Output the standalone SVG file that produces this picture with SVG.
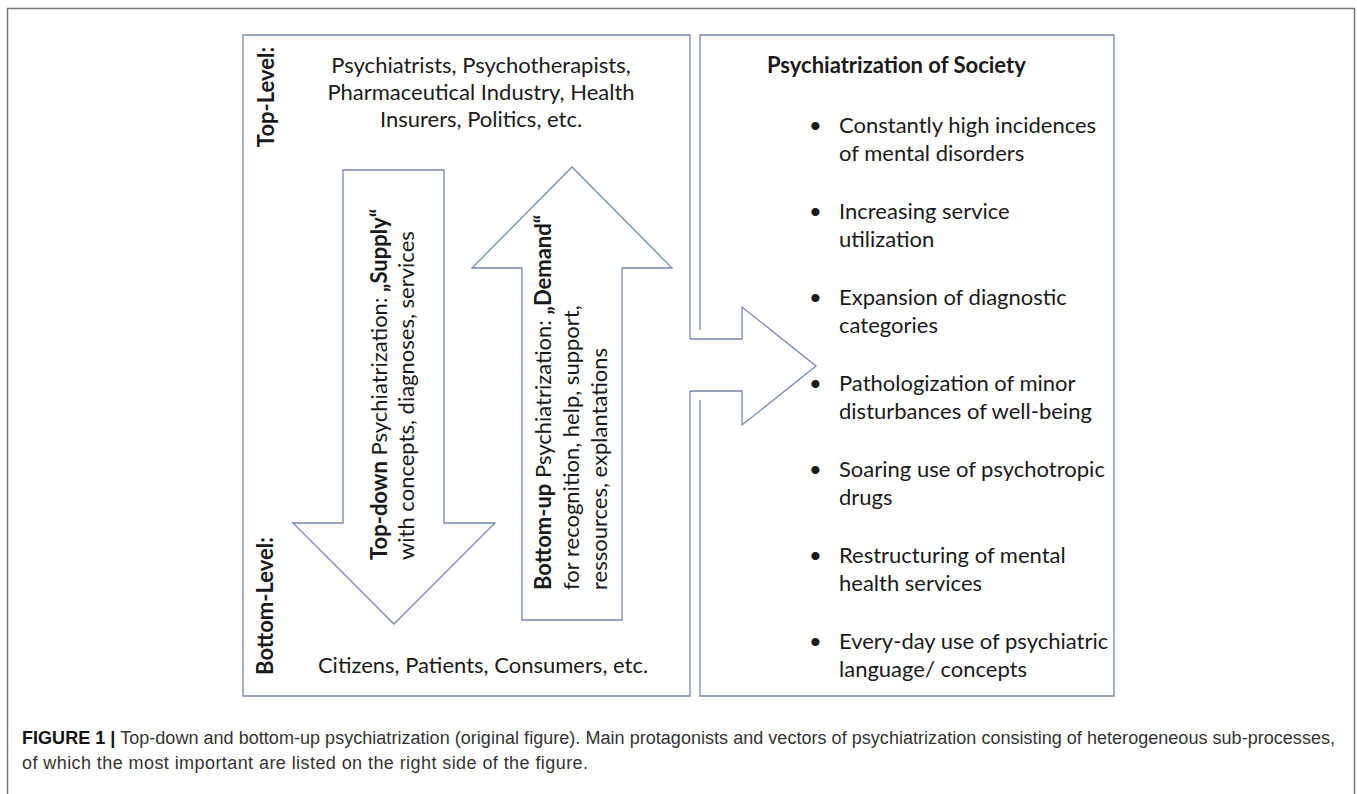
<svg xmlns="http://www.w3.org/2000/svg" width="1357" height="794" viewBox="0 0 1357 794">
<style>
.shape{fill:#fff;stroke:#7388b0;stroke-width:1.3;stroke-linejoin:miter}
.line{fill:none;stroke:#7388b0;stroke-width:1.3}
.t{font-family:"Lato","Open Sans","Liberation Sans",sans-serif;font-size:22px;fill:#1a1a1a}
.b{font-weight:bold}
.cap{font-family:"Liberation Sans",Arial,sans-serif;font-size:18px;fill:#333}
</style>
<rect x="7.5" y="8.5" width="1347" height="800" fill="#fff" stroke="#777" stroke-width="1.5"/>
<g id="left-box">
<path class="line" d="M690,339 V35 H243 V696 H690 V391"/>
<text class="t b" text-anchor="middle" transform="translate(274,97) rotate(-90)">Top-Level:</text>
<text class="t b" text-anchor="middle" transform="translate(273,606) rotate(-90)">Bottom-Level:</text>
<text class="t" text-anchor="middle" x="481" y="73">Psychiatrists, Psychotherapists,</text>
<text class="t" text-anchor="middle" x="481" y="100">Pharmaceutical Industry, Health</text>
<text class="t" text-anchor="middle" x="481" y="127">Insurers, Politics, etc.</text>
<text class="t" text-anchor="middle" x="483" y="673">Citizens, Patients, Consumers, etc.</text>
</g>
<g id="top-down-arrow">
<polygon class="shape" points="343,170 444,170 444,523 495,523 394,624 293,523 343,523"/>
<text class="t" transform="translate(387,560) rotate(-90)"><tspan class="b">Top-down</tspan> Psychiatrization: <tspan class="b">„Supply“</tspan></text>
<text class="t" transform="translate(414,560) rotate(-90)">with concepts, diagnoses, services</text>
</g>
<g id="bottom-up-arrow">
<polygon class="shape" points="572,167 672,268 622,268 622,620 522,620 522,268 472,268"/>
<text class="t" transform="translate(551,590) rotate(-90)"><tspan class="b">Bottom-up</tspan> Psychiatrization: <tspan class="b">„Demand“</tspan></text>
<text class="t" transform="translate(579,590) rotate(-90)">for recognition, help, support,</text>
<text class="t" transform="translate(607,590) rotate(-90)">ressources, explantations</text>
</g>
<g id="connectors">
<path class="line" d="M690,339 H742 V307 L816,366 L742,425 V391 H690"/>
</g>
<g id="right-box">
<path class="line" d="M700,330 V35 H1114 V696 H700 V400"/>
<text class="t b" x="767" y="73">Psychiatrization of Society</text>
<g class="t">
<text x="809" y="133">•</text><text x="839" y="133">Constantly high incidences</text><text x="839" y="161">of mental disorders</text>
<text x="809" y="219">•</text><text x="839" y="219">Increasing service</text><text x="839" y="247">utilization</text>
<text x="809" y="305">•</text><text x="839" y="305">Expansion of diagnostic</text><text x="839" y="333">categories</text>
<text x="809" y="391">•</text><text x="839" y="391">Pathologization of minor</text><text x="839" y="419">disturbances of well-being</text>
<text x="809" y="477">•</text><text x="839" y="477">Soaring use of psychotropic</text><text x="839" y="505">drugs</text>
<text x="809" y="563">•</text><text x="839" y="563">Restructuring of mental</text><text x="839" y="591">health services</text>
<text x="809" y="649">•</text><text x="839" y="649">Every-day use of psychiatric</text><text x="839" y="677">language/ concepts</text>
</g>
</g>
<g id="caption">
<text class="cap" x="22" y="744" textLength="1313" lengthAdjust="spacing"><tspan font-weight="bold" fill="#111">FIGURE 1 |</tspan> Top-down and bottom-up psychiatrization (original figure). Main protagonists and vectors of psychiatrization consisting of heterogeneous sub-processes,</text>
<text class="cap" x="22" y="769" textLength="566" lengthAdjust="spacing">of which the most important are listed on the right side of the figure.</text>
</g>
</svg>
